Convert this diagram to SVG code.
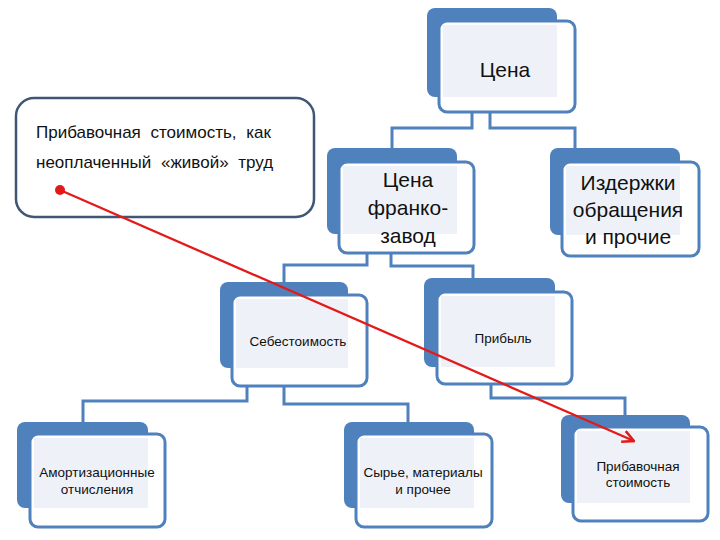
<svg xmlns="http://www.w3.org/2000/svg" width="720" height="540" viewBox="0 0 720 540">
<defs>
<style>
.back{fill:#4f81bd}
.front{fill:#ffffff;stroke:#4f81bd;stroke-width:3}
.inner{fill:#eef2f8}
.big{font-family:"Liberation Sans",Arial,sans-serif;font-size:21px;fill:#111;text-anchor:middle}
.small{font-family:"Liberation Sans",Arial,sans-serif;font-size:13.5px;fill:#111;text-anchor:middle}
.note{font-family:"Liberation Sans",Arial,sans-serif;font-size:17px;fill:#111}
.conn{fill:none;stroke:#4f81bd;stroke-width:3}
.stub{fill:none;stroke:#d5dce6;stroke-width:1.5}
</style>
<marker id="arr" viewBox="0 0 12 12" refX="11" refY="6" markerWidth="6" markerHeight="6" orient="auto" markerUnits="strokeWidth">
<path d="M1,1 L11,6 L1,11" fill="none" stroke="#e31a1a" stroke-width="2.2"/>
</marker>
</defs>
<rect width="720" height="540" fill="#ffffff"/>

<g id="connectors">
<path class="stub" d="M472,100 V127 M490,100 V127"/>
<path class="conn" d="M472,112 V128 H392 V148"/>
<path class="conn" d="M490,112 V128 H575 V150"/>
<path class="stub" d="M367,240 V264 M391,240 V264"/>
<path class="conn" d="M367,253 V265 H284 V282"/>
<path class="conn" d="M391,253 V266 H473 V278"/>
<path class="stub" d="M247,372 V400 M284,372 V402"/>
<path class="conn" d="M247,385 V401 H83 V422"/>
<path class="conn" d="M284,385 V404 H408 V422"/>
<path class="conn" d="M491,383 V398 H625 V415"/>
</g>

<g id="node-price">
<rect class="back" x="427" y="8" width="130" height="89" rx="8"/>
<rect class="front" x="439" y="21" width="136" height="91" rx="8"/>
<rect class="inner" x="443" y="25" width="114" height="72"/>
<text class="big" x="505" y="77">Цена</text>
</g>

<g id="node-franco">
<rect class="back" x="327" y="148" width="130" height="86" rx="8"/>
<rect class="front" x="339" y="162" width="135" height="91" rx="8"/>
<rect class="inner" x="343" y="166" width="114" height="68"/>
<text class="big" x="408" y="187">Цена</text>
<text class="big" x="408" y="215">франко-</text>
<text class="big" x="408" y="243">завод</text>
</g>

<g id="node-costs">
<rect class="back" x="550" y="148" width="130" height="87" rx="8"/>
<rect class="front" x="562" y="162" width="137" height="94" rx="8"/>
<rect class="inner" x="566" y="166" width="114" height="69"/>
<text class="big" x="628" y="190">Издержки</text>
<text class="big" x="628" y="217">обращения</text>
<text class="big" x="628" y="244">и прочие</text>
</g>

<g id="node-cost-price">
<rect class="back" x="220" y="282" width="128" height="86" rx="8"/>
<rect class="front" x="232" y="295" width="135" height="91" rx="8"/>
<rect class="inner" x="236" y="299" width="112" height="69"/>
<text class="small" x="298" y="346">Себестоимость</text>
</g>

<g id="node-profit">
<rect class="back" x="424" y="278" width="131" height="89" rx="8"/>
<rect class="front" x="437" y="292" width="135" height="92" rx="8"/>
<rect class="inner" x="441" y="296" width="114" height="71"/>
<text class="small" x="503" y="343">Прибыль</text>
</g>

<g id="node-amort">
<rect class="back" x="17" y="422" width="131" height="86" rx="8"/>
<rect class="front" x="30" y="434" width="135" height="93" rx="8"/>
<rect class="inner" x="34" y="438" width="114" height="70"/>
<text class="small" x="97" y="477">Амортизационные</text>
<text class="small" x="97" y="494">отчисления</text>
</g>

<g id="node-materials">
<rect class="back" x="344" y="422" width="130" height="86" rx="8"/>
<rect class="front" x="356" y="434" width="136" height="93" rx="8"/>
<rect class="inner" x="360" y="438" width="114" height="70"/>
<text class="small" x="423" y="477">Сырье, материалы</text>
<text class="small" x="423" y="494">и прочее</text>
</g>

<g id="node-surplus">
<rect class="back" x="561" y="415" width="129" height="88" rx="8"/>
<rect class="front" x="573" y="427" width="135" height="94" rx="8"/>
<rect class="inner" x="577" y="431" width="113" height="72"/>
<text class="small" x="638" y="471">Прибавочная</text>
<text class="small" x="638" y="487">стоимость</text>
</g>

<g id="note">
<rect x="16" y="98" width="298" height="119" rx="18" fill="#ffffff" stroke="#3f5675" stroke-width="2.5"/>
<text class="note" x="36" y="138" word-spacing="5">Прибавочная стоимость, как</text>
<text class="note" x="36" y="168" word-spacing="5">неоплаченный «живой» труд</text>
</g>

<g id="arrow">
<line x1="60" y1="190" x2="634" y2="441" stroke="#e31a1a" stroke-width="2.3" marker-end="url(#arr)"/>
<circle cx="60" cy="190" r="5" fill="#e31a1a"/>
</g>
</svg>
